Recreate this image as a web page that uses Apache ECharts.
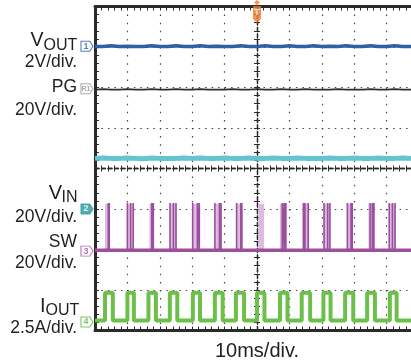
<!DOCTYPE html>
<html>
<head>
<meta charset="utf-8">
<script src="https://cdn.jsdelivr.net/npm/echarts@6/dist/echarts.min.js"></script>
<style>
html, body { margin: 0; padding: 0; background: #fff; }
#main { width: 411px; height: 362px; }
</style>
</head>
<body>
<div id="main"></div>
<script>
// time in ms (10ms/div, trigger at 0), levels in divisions from screen centre
var sampleTimes = [-50, -47.5, -45, -42.5, -40, -37.5, -35, -32.5, -30, -27.5, -25, -22.5, -20, -17.5, -15, -12.5, -10, -7.5, -5, -2.5,
  0, 2.5, 5, 7.5, 10, 12.5, 15, 17.5, 20, 22.5, 25, 27.5, 30, 32.5, 35, 37.5, 40, 42.5, 45, 47.5, 50];
var voutLevels = [3.01, 3.01, 3.03, 3.01, 3.02, 3.01, 3.01, 3.03, 3.01, 3.01, 3.03, 3.01, 3.01, 3.03, 3.01, 3.02, 3.01, 3.01, 3.03, 3.01,
  3.01, 3.03, 3.01, 3.01, 3.03, 3.01, 3.01, 3.03, 3.01, 3.02, 3.01, 3.03, 3.01, 3.01, 3.03, 3.01, 3.01, 3.03, 3.01, 3.01, 3.02];
var pgLevels = [1.95, 1.96, 1.95, 1.95, 1.96, 1.95, 1.95, 1.96, 1.95, 1.95, 1.96, 1.95, 1.95, 1.96, 1.95, 1.95, 1.95, 1.96, 1.95, 1.95,
  1.96, 1.95, 1.95, 1.96, 1.95, 1.95, 1.96, 1.95, 1.95, 1.95, 1.96, 1.95, 1.95, 1.95, 1.96, 1.95, 1.95, 1.96, 1.95, 1.95, 1.95];
var vinLevels = [0.25, 0.26, 0.25, 0.25, 0.26, 0.25, 0.24, 0.26, 0.25, 0.25, 0.25, 0.26, 0.25, 0.26, 0.25, 0.25, 0.26, 0.25, 0.25, 0.26,
  0.25, 0.25, 0.26, 0.25, 0.25, 0.26, 0.25, 0.25, 0.25, 0.26, 0.25, 0.25, 0.26, 0.25, 0.25, 0.26, 0.25, 0.25, 0.26, 0.25, 0.25];

var swBase = -2.02;
var swTop = -0.85;
var swBurstStart = [-46.9, -40.2, -33.2, -26.9, -20.0, -13.0, -6.3, 0.4, 7.1, 14.3, 20.5, 27.7, 34.4, 40.8];
var swBurstEnd = [-45.4, -38.2, -31.8, -24.8, -17.6, -10.9, -4.4, 2.2, 9.1, 16.1, 22.7, 29.5, 36.1, 42.9];
var swSpikes = [-45.9, -45.6, -40.0, -39.0, -38.2, -32.5, -32.0, -26.85, -25.8, -25.0, -19.85, -18.4, -17.8, -13.0, -11.6, -11.1,
  -6.3, -5.0, -4.7, 7.8, 8.4, 8.9, 14.3, 14.8, 15.8, 20.7, 21.8, 22.5, 27.9, 29.0, 29.4, 34.9, 35.6, 36.1, 40.8, 41.8, 42.6];

var ioutLow = -3.75;
var ioutHigh = -3.07;
var ioutStart = [-46.9, -40.0, -33.5, -26.9, -19.8, -13.0, -6.5, 0, 7.1, 13.8, 20.5, 27.2, 34.0, 41.0];
var ioutEnd = [-44.5, -38.0, -31.2, -24.6, -17.6, -10.6, -4.0, 2.3, 9.4, 16.4, 22.7, 29.7, 36.4, 43.1];

var markerNames = ['1', 'R1', '2', '3', '4'];
var markerLevels = [3.02, 1.97, -1.0, -2.04, -3.79];

var dark = '#2a2a2a';
var txt = '#231f20';
var font = 'Liberation Sans, Arial, sans-serif';

function zip(xs, ys) {
  return xs.map(function (x, i) { return [x, ys[i]]; });
}

function pulses(starts, ends, lo, hi) {
  var out = [[-50, lo]];
  starts.forEach(function (s, i) {
    out.push([s, lo], [s, hi], [ends[i], hi], [ends[i], lo]);
  });
  out.push([50, lo]);
  return out;
}

var spikeData = [[-50, swBase]];
swSpikes.forEach(function (t) {
  spikeData.push([t, swBase], [t, swTop], [t, swBase]);
});
spikeData.push([50, swBase]);

function axisX(pos, extra) {
  var a = {
    type: 'value', min: -50, max: 50, interval: 10, position: pos,
    axisLine: { onZero: false, lineStyle: { color: dark, width: 3 } },
    axisTick: { show: true, inside: true, length: 4, lineStyle: { color: dark, width: 1 } },
    minorTick: { show: true, splitNumber: 5, length: 4, lineStyle: { color: dark, width: 1 } },
    axisLabel: { show: false },
    splitLine: { show: false }
  };
  return Object.assign(a, extra || {});
}
function axisY(pos, extra) {
  var a = {
    type: 'value', min: -4, max: 4, interval: 1, position: pos,
    axisLine: { onZero: false, lineStyle: { color: dark, width: 3 } },
    axisTick: { show: true, inside: true, length: 4, lineStyle: { color: dark, width: 1 } },
    minorTick: { show: true, splitNumber: 5, length: 4, lineStyle: { color: dark, width: 1 } },
    axisLabel: { show: false },
    splitLine: { show: false }
  };
  return Object.assign(a, extra || {});
}
var centreLine = { onZero: true, onZeroAxisIndex: 0, lineStyle: { color: dark, width: 1.3, type: [4, 2.5] } };

var chart = echarts.init(document.getElementById('main'), null, { renderer: 'canvas' });

var labels = [
  ['V', 43.5, 40.5, 19.5, 'right'],
  ['OUT', 43.5, 45.5, 16, 'left'],
  ['2V/div.', 77, 62, 17.5, 'right'],
  ['PG', 77, 87, 17.5, 'right'],
  ['20V/div.', 77, 110, 17.5, 'right'],
  ['V', 62, 193.5, 20, 'right'],
  ['IN', 61.5, 197.5, 16, 'left'],
  ['20V/div.', 77, 217, 17.5, 'right'],
  ['SW', 77, 242, 17.5, 'right'],
  ['20V/div.', 77, 263.5, 17.5, 'right'],
  ['I', 40, 306, 20, 'left'],
  ['OUT', 45.5, 311, 16, 'left'],
  ['2.5A/div.', 77, 328.5, 17.5, 'right'],
  ['10ms/div.', 257, 351, 20, 'center']
];

var markerStyles = [
  { fill: '#fff', stroke: '#2f5fa7', text: '#2f5fa7' },
  { fill: '#fff', stroke: '#999', text: '#999' },
  { fill: '#2a9a98', stroke: '#2a9a98', text: '#fff' },
  { fill: '#fff', stroke: '#9d4f9f', text: '#9d4f9f' },
  { fill: '#fff', stroke: '#5db33e', text: '#5db33e' }
];

var option = {
  animation: false,
  backgroundColor: '#fff',
  grid: { left: 95, top: 6.5, width: 324, height: 324, outerBoundsMode: 'none', containLabel: false },
  xAxis: [
    axisX('bottom', { splitLine: { show: true, lineStyle: { color: '#444', width: 1.2, type: [1.5, 6.6] } } }),
    axisX('top'),
    axisX('bottom', { axisLine: centreLine, axisTick: { show: true, inside: true, length: 3, lineStyle: { color: dark } },
      minorTick: { show: true, splitNumber: 5, length: 3, lineStyle: { color: dark } } }),
    axisX('bottom', { axisLine: centreLine, axisTick: { show: true, inside: false, length: 3, lineStyle: { color: dark } },
      minorTick: { show: true, splitNumber: 5, length: 3, lineStyle: { color: dark } } })
  ],
  yAxis: [
    axisY('left', { splitLine: { show: true, lineStyle: { color: '#444', width: 1.2, type: [1.5, 4.98] } } }),
    axisY('left', { axisLine: centreLine, axisTick: { show: true, inside: true, length: 3, lineStyle: { color: dark } },
      minorTick: { show: true, splitNumber: 5, length: 3, lineStyle: { color: dark } } }),
    axisY('left', { axisLine: centreLine, axisTick: { show: true, inside: false, length: 3, lineStyle: { color: dark } },
      minorTick: { show: true, splitNumber: 5, length: 3, lineStyle: { color: dark } } })
  ],
  graphic: labels.map(function (l) {
    return {
      type: 'text', x: l[1], y: l[2], silent: true,
      style: { text: l[0], fontSize: l[3], fontFamily: font, fill: txt, align: l[4], verticalAlign: 'middle' }
    };
  }),
  series: [
    { name: 'VOUT', type: 'line', data: zip(sampleTimes, voutLevels), symbol: 'none', silent: true,
      lineStyle: { color: '#2f5fa7', width: 3.5 } },
    { name: 'PG', type: 'line', data: zip(sampleTimes, pgLevels), symbol: 'none', silent: true,
      lineStyle: { color: '#2d2d2d', width: 1.8 } },
    { name: 'VIN', type: 'line', data: zip(sampleTimes, vinLevels), symbol: 'none', silent: true,
      lineStyle: { color: '#63c5cf', width: 5 } },
    { name: 'SW fill', type: 'line', data: pulses(swBurstStart, swBurstEnd, swBase, swTop - 0.02), symbol: 'none', silent: true,
      lineStyle: { width: 0 }, areaStyle: { color: '#dcbcde', origin: swBase, opacity: 1 } },
    { name: 'SW', type: 'line', data: [[-50, swBase], [50, swBase]], symbol: 'none', silent: true,
      lineStyle: { color: '#9d4f9f', width: 3.5 } },
    { name: 'SW spikes', type: 'line', data: spikeData, symbol: 'none', silent: true,
      lineStyle: { color: '#9d4f9f', width: 1.6 } },
    { name: 'IOUT', type: 'line', data: pulses(ioutStart, ioutEnd, ioutLow, ioutHigh), symbol: 'none', silent: true,
      lineStyle: { color: '#6cc04a', width: 4 } },
    { name: 'markers', type: 'scatter', clip: false, silent: true, z: 10,
      symbol: 'path://M0,0 L8,0 L11,5 L8,10 L0,10 Z', symbolSize: [12, 10], symbolOffset: [-8, 0],
      data: markerNames.map(function (n, i) {
        var s = markerStyles[i];
        return {
          value: [-50, markerLevels[i]],
          itemStyle: { color: s.fill, borderColor: s.stroke, borderWidth: 1 },
          label: { show: true, position: 'inside', formatter: n, color: s.text, fontSize: n.length > 1 ? 7 : 9,
            fontWeight: 'bold', fontFamily: font, offset: [-1, 0] }
        };
      }) },
    { name: 'trigger', type: 'scatter', clip: false, silent: true, z: 11,
      symbol: 'path://M4,0 L7,2.5 L4,5 L1,2.5 Z M0,6 L8,6 L8,19 L4,23 L0,19 Z', symbolSize: [8, 23], symbolOffset: [0, 5],
      itemStyle: { color: '#f07a2a' },
      label: { show: true, position: 'inside', formatter: 'T', color: '#fff', fontSize: 9, fontWeight: 'bold',
        fontFamily: font, offset: [0, 1] },
      data: [[0, 4]] }
  ]
};

chart.setOption(option);
</script>
</body>
</html>
